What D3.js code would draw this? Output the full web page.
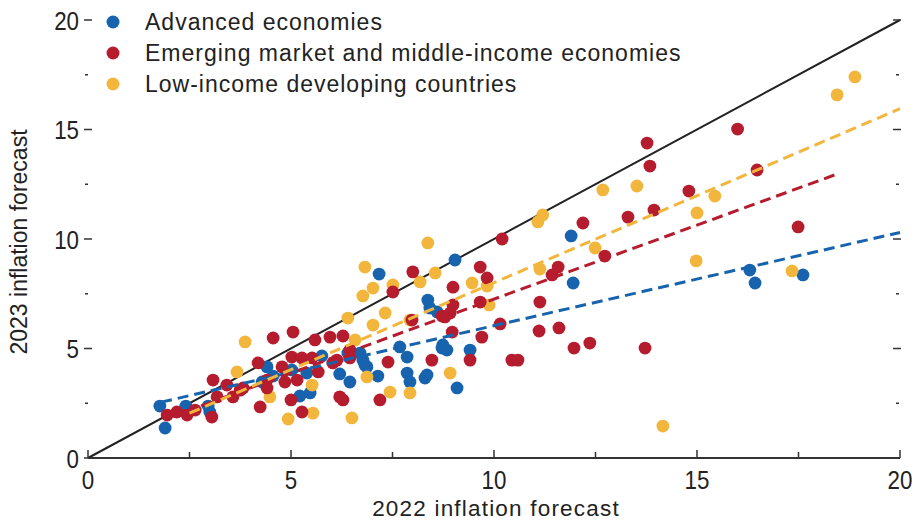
<!DOCTYPE html>
<html><head><meta charset="utf-8">
<script src="https://cdn.jsdelivr.net/npm/d3@7"></script>
<style>body{margin:0;background:#fff}svg{display:block}</style>
</head><body>
<svg id="c" width="915" height="522"></svg>
<script>
const seriesNames = ["Advanced economies","Emerging market and middle-income economies","Low-income developing countries"];
const seriesColors = ["#1763ae","#b51c2e","#f2b63c"];
const xTicks = [0,5,10,15,20];
const yTicks = [0,5,10,15,20];

const advanced = [[1.77,2.37],[1.9,1.37],[2.41,2.37],[2.96,2.37],[3.0,2.1],[4.29,3.47],[4.56,3.74],[4.41,4.16],[5.02,4.02],[5.39,3.88],[5.76,4.66],[6.2,3.84],[6.7,4.79],[6.82,4.25],[7.14,3.74],[7.68,5.07],[7.86,4.61],[7.86,3.88],[7.93,3.47],[8.3,3.65],[8.72,5.02],[8.74,5.16],[8.84,4.93],[9.41,4.93],[9.09,3.2],[5.22,2.83],[5.47,2.97],[7.17,8.4],[9.04,9.04],[8.37,7.21],[8.42,6.85],[8.6,6.67],[11.9,10.14],[11.95,7.99],[16.3,8.58],[16.43,7.99],[17.61,8.36],[8.35,3.79],[6.77,4.47],[6.45,3.47],[6.4,4.79],[6.87,4.16]];
const emerging = [[4.56,5.48],[4.19,4.34],[3.08,3.56],[3.42,3.33],[3.82,3.2],[4.41,3.2],[3.18,2.79],[3.57,2.79],[4.24,2.33],[2.64,2.19],[2.44,1.96],[1.95,1.96],[2.19,2.1],[3.05,1.87],[8.0,8.5],[7.51,7.58],[8.99,7.8],[8.99,6.99],[7.98,6.3],[8.79,6.44],[5.05,5.75],[5.59,5.39],[5.96,5.52],[6.28,5.57],[8.97,5.75],[5.02,4.61],[5.27,4.57],[5.52,4.57],[6.13,4.47],[6.45,4.57],[8.47,4.47],[7.39,4.38],[4.78,4.16],[5.67,3.93],[4.41,3.56],[4.85,3.47],[6.2,2.79],[6.28,2.65],[5.0,2.65],[7.19,2.65],[5.27,2.1],[12.19,10.73],[10.2,10.0],[9.66,8.72],[9.83,8.22],[11.58,8.72],[11.43,8.36],[9.66,7.12],[11.13,7.12],[8.72,6.48],[10.15,6.12],[11.11,5.8],[11.6,5.94],[9.7,5.52],[9.41,4.47],[10.44,4.47],[10.59,4.47],[11.97,5.02],[12.36,5.25],[13.72,5.02],[16.0,15.02],[13.77,14.38],[13.84,13.33],[16.48,13.15],[14.8,12.19],[13.3,11.0],[13.94,11.32],[12.73,9.22],[17.49,10.55],[8.92,6.62],[6.45,4.93],[6.03,4.34],[5.15,3.56],[3.75,3.1]];
const lowIncome = [[3.87,5.3],[3.67,3.93],[4.48,2.79],[6.82,8.72],[8.55,8.45],[6.77,7.4],[7.02,7.76],[7.51,7.9],[8.18,8.04],[7.32,6.62],[7.02,6.07],[6.4,6.39],[6.58,5.39],[6.87,3.7],[8.92,3.88],[5.52,3.33],[7.44,3.01],[7.93,2.97],[5.54,2.05],[4.93,1.78],[6.5,1.83],[11.2,11.1],[11.08,10.78],[12.49,9.59],[8.37,9.82],[9.46,7.99],[11.13,8.63],[9.88,6.99],[12.68,12.24],[13.52,12.42],[15.44,11.96],[15.0,11.19],[14.98,9.0],[18.89,17.4],[18.45,16.58],[17.34,8.54],[14.16,1.46],[9.83,7.85],[7.93,6.3]];
// fitted trend lines: [x0, y0], [x1, y1]
const trendAdvanced = [[1.8,2.55],[20,10.3]];
const trendEmerging = [[2.0,1.85],[18.5,13.0]];
const trendLowIncome = [[2.5,2.05],[20,15.95]];

const svg = d3.select("#c");
const x = d3.scaleLinear().domain([0,20]).range([88,900]);
const y = d3.scaleLinear().domain([0,20]).range([458,20]);
const font = "Liberation Sans, Arial, sans-serif";

// 45-degree line
svg.append("line").attr("x1",x(0)).attr("y1",y(0)).attr("x2",x(20)).attr("y2",y(20))
  .attr("stroke","#222").attr("stroke-width",2);

// bottom axis
const minorVals = d3.range(0,20.01,2.5);
svg.append("line").attr("x1",x(0)).attr("x2",x(20)).attr("y1",y(0)).attr("y2",y(0))
  .attr("stroke","#333").attr("stroke-width",2);
svg.selectAll(".xt").data(minorVals).join("line")
  .attr("x1",d=>x(d)).attr("x2",d=>x(d)).attr("y1",y(0)).attr("y2",d=>y(0)-(d%5===0?8:6))
  .attr("stroke","#333").attr("stroke-width",1.5);
svg.selectAll(".xl").data(xTicks).join("text")
  .attr("transform",d=>`translate(${x(d)},489) scale(0.86,1)`).attr("text-anchor","middle")
  .attr("font-family",font).attr("font-size",26).attr("fill","#222").text(d=>d);

// left ticks
svg.selectAll(".yt").data(minorVals).join("line")
  .attr("x1",d=>d%5===0?84:85).attr("x2",d=>d%5===0?92:88).attr("y1",d=>y(d)).attr("y2",d=>y(d))
  .attr("stroke","#333").attr("stroke-width",1.5);
// right ticks
svg.selectAll(".yr").data(minorVals.filter(d=>d>0)).join("line")
  .attr("x1",d=>d%5===0?893:896).attr("x2",d=>d%5===0?901:899).attr("y1",d=>y(d)).attr("y2",d=>y(d))
  .attr("stroke","#333").attr("stroke-width",1.5);
svg.selectAll(".yl").data(yTicks).join("text")
  .attr("transform",d=>`translate(79,${y(d)+9.5}) scale(0.86,1)`).attr("text-anchor","end")
  .attr("font-family",font).attr("font-size",26).attr("fill","#222").text(d=>d);

// axis titles
svg.append("text").attr("x",496).attr("y",516).attr("text-anchor","middle")
  .attr("font-family",font).attr("font-size",22.5).attr("letter-spacing",1.2).attr("fill","#222").text("2022 inflation forecast");
svg.append("text").attr("transform","translate(27,242) rotate(-90)").attr("text-anchor","middle")
  .attr("font-family",font).attr("font-size",23).attr("fill","#222").text("2023 inflation forecast");

// points
const allSeries = [advanced, emerging, lowIncome];
[0,2,1].forEach(i=>{
  svg.append("g").selectAll("circle").data(allSeries[i]).join("circle")
    .attr("cx",d=>x(d[0])).attr("cy",d=>y(d[1])).attr("r",6.4)
    .attr("fill",seriesColors[i]);
});

// trend lines
const trends = [trendAdvanced, trendEmerging, trendLowIncome];
const line = d3.line().x(d=>x(d[0])).y(d=>y(d[1]));
trends.forEach((t,i)=>{
  svg.append("path").attr("d",line(t)).attr("fill","none")
    .attr("stroke",seriesColors[i]).attr("stroke-width",3).attr("stroke-dasharray","11,6");
});

// legend
const leg = svg.append("g");
seriesNames.forEach((n,i)=>{
  const cy = 22 + i*31;
  leg.append("circle").attr("cx",113).attr("cy",cy).attr("r",6.5).attr("fill",seriesColors[i]);
  leg.append("text").attr("x",145).attr("y",cy+8).attr("font-family",font)
    .attr("font-size",23).attr("letter-spacing",1).attr("fill","#222").text(n);
});
</script>
</body></html>
